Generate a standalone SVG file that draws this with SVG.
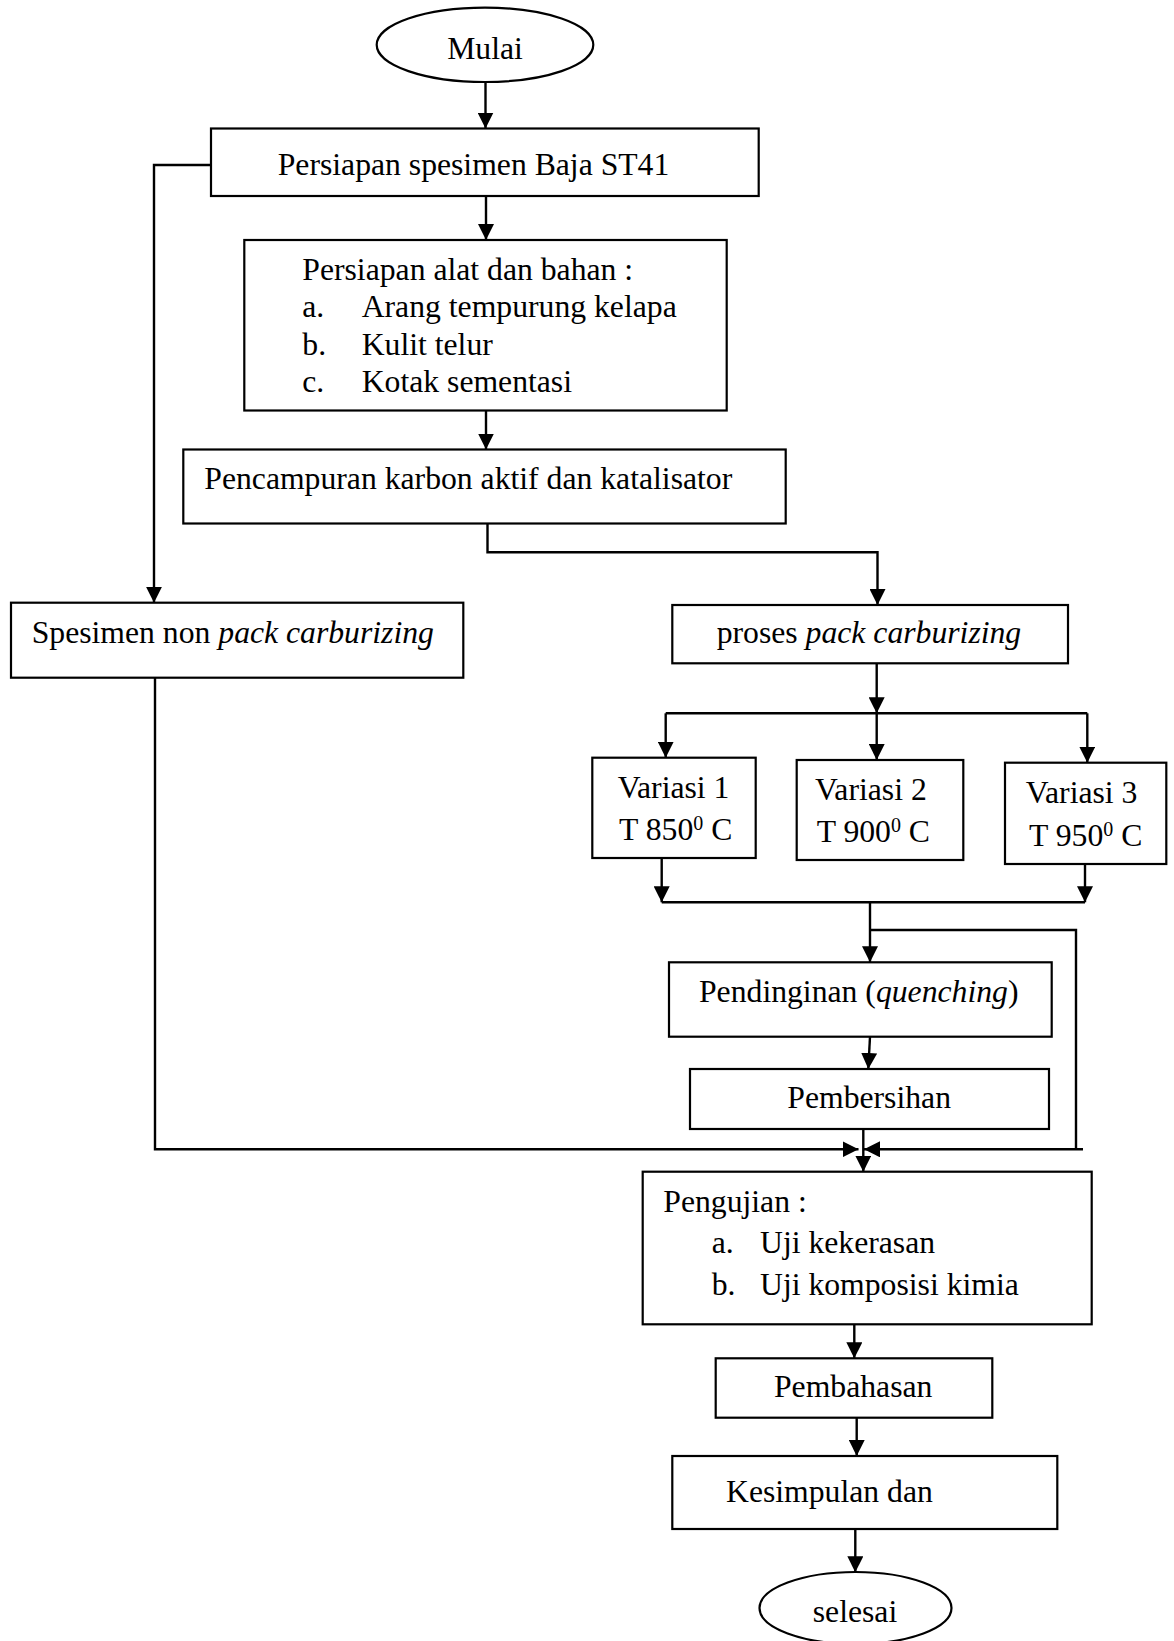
<svg xmlns="http://www.w3.org/2000/svg" width="1174" height="1641" viewBox="0 0 1174 1641">
<style>
.box{fill:#fff;stroke:#000;stroke-width:2.2}
.t{font-family:"Liberation Serif","Times New Roman",serif;font-size:31.7px;fill:#000}
.i{font-style:italic}
.sup{font-size:20px}
.c{fill:none;stroke:#000;stroke-width:2.4}
.a{marker-end:url(#ah)}
</style>
<defs>
<marker id="ah" markerUnits="userSpaceOnUse" markerWidth="16" markerHeight="16" refX="16" refY="8" orient="auto">
<path d="M0,0 L16,8 L0,16 z" fill="#000"/>
</marker>
</defs>
<rect width="1174" height="1641" fill="#fff"/>

<g id="connectors">
<path class="c a" d="M485.5,82 V128.5"/>
<path class="c a" d="M211,165 H154 V602.7"/>
<path class="c a" d="M486,196.5 V240"/>
<path class="c a" d="M486,410.5 V449.5"/>
<path class="c a" d="M487.5,523.5 V552.3 H877.5 V605"/>
<path class="c a" d="M876.7,663.3 V713.3"/>
<path class="c" d="M665.7,713.3 H1087.3"/>
<path class="c a" d="M665.7,713.3 V757.7"/>
<path class="c a" d="M876.7,713.3 V760"/>
<path class="c a" d="M1087.3,713.3 V762.7"/>
<path class="c a" d="M661.7,858 V902.3"/>
<path class="c a" d="M1085,864 V902.3"/>
<path class="c" d="M661.7,902.3 H1085"/>
<path class="c a" d="M870,902.3 V962.3"/>
<path class="c" d="M870,930 H1076 V1149.3"/>
<path class="c a" d="M870,1036.7 L868.3,1069"/>
<path class="c a" d="M863.3,1129 V1171.7"/>
<path class="c a" d="M155,677.7 V1149.3 H858.5"/>
<path class="c a" d="M1083,1149.3 H864"/>
<path class="c a" d="M854.3,1324.3 V1358.3"/>
<path class="c a" d="M856.7,1417.7 V1456"/>
<path class="c a" d="M855.3,1529 V1572.3"/>
</g>

<g id="mulai">
<ellipse class="box" cx="485" cy="44.8" rx="108.3" ry="37.2"/>
<text class="t" x="485" y="58.8" text-anchor="middle">Mulai</text>
</g>

<g id="persiapan-spesimen">
<rect class="box" x="211" y="128.5" width="547.7" height="67.5"/>
<text class="t" x="277.7" y="175">Persiapan spesimen Baja ST41</text>
</g>

<g id="persiapan-alat">
<rect class="box" x="244.3" y="240" width="482.4" height="170.5"/>
<text class="t" x="302.3" y="280">Persiapan alat dan bahan :</text>
<text class="t" x="302.3" y="317">a.</text>
<text class="t" x="361.7" y="317">Arang tempurung kelapa</text>
<text class="t" x="302.3" y="354.5">b.</text>
<text class="t" x="361.7" y="354.5">Kulit telur</text>
<text class="t" x="302.3" y="392">c.</text>
<text class="t" x="361.7" y="392">Kotak sementasi</text>
</g>

<g id="pencampuran">
<rect class="box" x="183.3" y="449.5" width="602.4" height="74"/>
<text class="t" x="204.3" y="489">Pencampuran karbon aktif dan katalisator</text>
</g>

<g id="spesimen-non">
<rect class="box" x="11" y="602.7" width="452.3" height="75"/>
<text class="t" x="31.7" y="642.7">Spesimen non <tspan class="i">pack carburizing</tspan></text>
</g>

<g id="proses">
<rect class="box" x="672.3" y="605" width="395.7" height="58.3"/>
<text class="t" x="716.7" y="643.3">proses <tspan class="i">pack carburizing</tspan></text>
</g>

<g id="variasi-1">
<rect class="box" x="592.3" y="757.7" width="163.4" height="100.3"/>
<text class="t" x="617.7" y="798.3">Variasi 1</text>
<text class="t" x="619" y="840">T 850<tspan class="sup" dy="-10">0</tspan><tspan dy="10"> C</tspan></text>
</g>

<g id="variasi-2">
<rect class="box" x="796.7" y="760" width="166.6" height="100"/>
<text class="t" x="815" y="800">Variasi 2</text>
<text class="t" x="816.7" y="841.7">T 900<tspan class="sup" dy="-10">0</tspan><tspan dy="10"> C</tspan></text>
</g>

<g id="variasi-3">
<rect class="box" x="1005" y="762.7" width="161.3" height="101.3"/>
<text class="t" x="1025.7" y="803.3">Variasi 3</text>
<text class="t" x="1029" y="846">T 950<tspan class="sup" dy="-10">0</tspan><tspan dy="10"> C</tspan></text>
</g>

<g id="pendinginan">
<rect class="box" x="669" y="962.3" width="382.7" height="74.4"/>
<text class="t" x="699" y="1001.7">Pendinginan (<tspan class="i">quenching</tspan>)</text>
</g>

<g id="pembersihan">
<rect class="box" x="690" y="1069" width="359" height="60"/>
<text class="t" x="787.3" y="1108.3">Pembersihan</text>
</g>

<g id="pengujian">
<rect class="box" x="642.7" y="1171.7" width="449" height="152.6"/>
<text class="t" x="663.3" y="1212.3">Pengujian :</text>
<text class="t" x="711.7" y="1253.3">a.</text>
<text class="t" x="760" y="1253.3">Uji kekerasan</text>
<text class="t" x="711.7" y="1295">b.</text>
<text class="t" x="760" y="1295">Uji komposisi kimia</text>
</g>

<g id="pembahasan">
<rect class="box" x="715.7" y="1358.3" width="276.6" height="59.4"/>
<text class="t" x="774" y="1397.3">Pembahasan</text>
</g>

<g id="kesimpulan">
<rect class="box" x="672.3" y="1456" width="385" height="73"/>
<text class="t" x="726" y="1502.3">Kesimpulan dan</text>
</g>

<g id="selesai">
<ellipse class="box" cx="855.5" cy="1608" rx="96" ry="36"/>
<text class="t" x="855" y="1621.7" text-anchor="middle">selesai</text>
</g>
</svg>
